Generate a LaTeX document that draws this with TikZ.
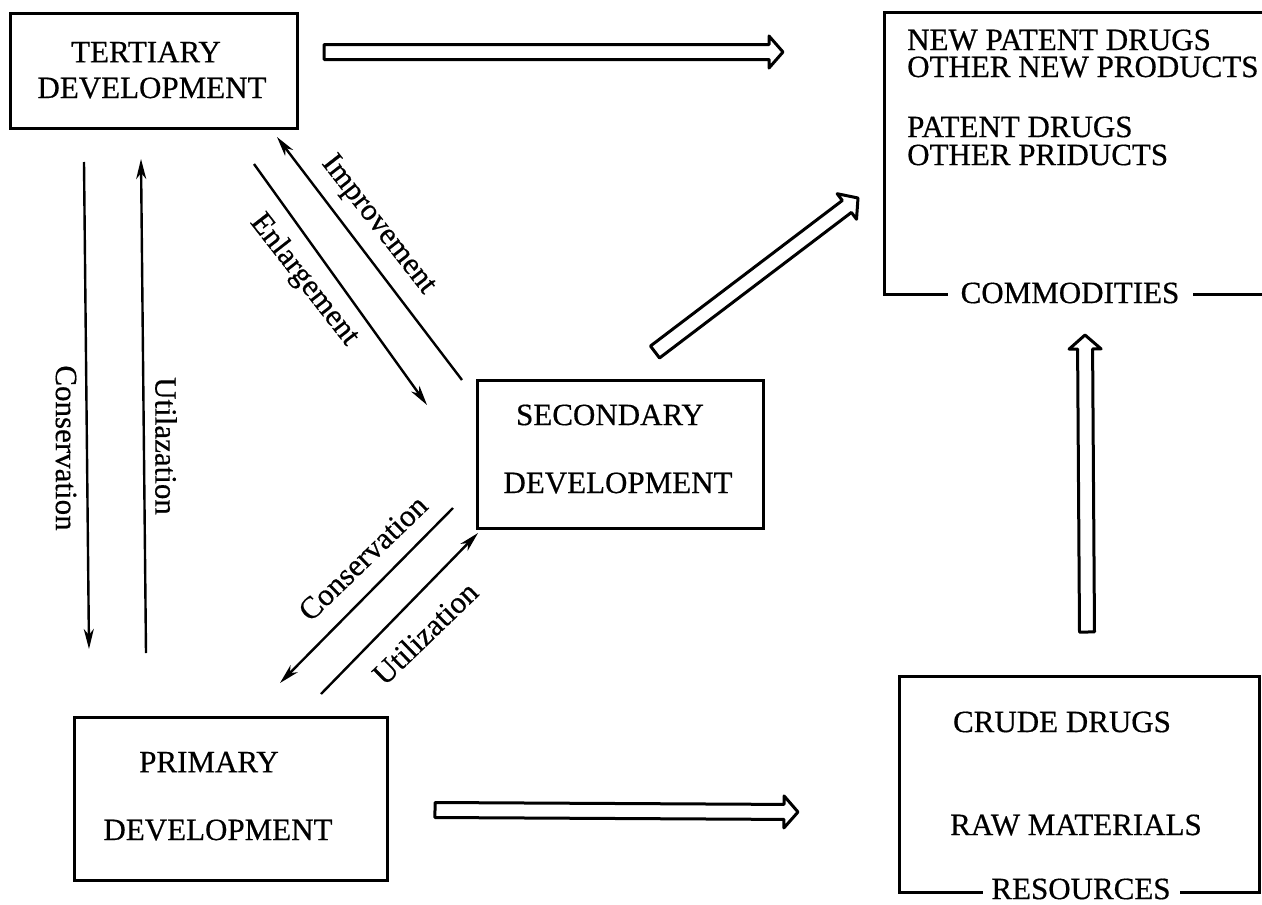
\documentclass[tikz,border=0pt]{standalone}
\usepackage{fontspec}
\setmainfont{Liberation Serif}[FakeBold=0.5]
\usetikzlibrary{calc,arrows.meta}
\tikzset{
  box/.style={draw, line width=3pt, rectangle, inner sep=0pt},
  txt/.style={inner sep=0pt, font=\fontsize{31}{36}\selectfont},
  thinarrow/.style={line width=2.4pt, -{Stealth[length=20pt,width=10pt,inset=6pt]}},
  blockarr/.style={line width=3pt, line join=round},
}
\newcommand\blockarrow[2]{%
  \coordinate (#1-h) at ($(#2)!14pt!(#1)$);
  \draw[blockarr] ($(#1)!7.5pt!90:(#2)$) -- ($(#1-h)!7.5pt!90:(#2)$) -- ($(#1-h)!16pt!90:(#2)$)
    -- (#2) -- ($(#1-h)!16pt!-90:(#2)$) -- ($(#1-h)!7.5pt!-90:(#2)$) -- ($(#1)!7.5pt!-90:(#2)$) -- cycle;}
\begin{document}
\begin{tikzpicture}[x=1pt,y=-1pt]
\useasboundingbox (0,0) rectangle (1262,905);
% boxes
\node[box, minimum width=287pt, minimum height=115pt] (ter) at (153.5,70.5) {};
\node[txt] (ter-t1) at (146,52) {TERTIARY};
\node[txt] (ter-t2) at (152,88) {DEVELOPMENT};

\node[box, minimum width=286pt, minimum height=148pt] (sec) at (620,454) {};
\node[txt] (sec-t1) at (610,415) {SECONDARY};
\node[txt] (sec-t2) at (618,483) {DEVELOPMENT};

\node[box, minimum width=313pt, minimum height=163pt] (prim) at (230.5,798.5) {};
\node[txt] (prim-t1) at (209,762) {PRIMARY};
\node[txt] (prim-t2) at (218,830) {DEVELOPMENT};

\node[box, minimum width=400pt, minimum height=282pt, anchor=north west] (com) at (883,11) {};
\node[txt, fill=white, minimum width=245pt, inner ysep=2pt] (com-l) at (1070,293) {COMMODITIES};
\node[txt, anchor=west] (com-t1) at (907,40) {NEW PATENT DRUGS};
\node[txt, anchor=west] (com-t2) at (907,67) {OTHER NEW PRODUCTS};
\node[txt, anchor=west] (com-t3) at (907,127) {PATENT DRUGS};
\node[txt, anchor=west] (com-t4) at (907,155) {OTHER PRIDUCTS};

\node[box, minimum width=360pt, minimum height=216pt] (res) at (1079,784) {};
\node[txt, fill=white, minimum width=197pt, inner ysep=1pt] (res-l) at (1081,889) {RESOURCES};
\node[txt] (res-t1) at (1062,722) {CRUDE DRUGS};
\node[txt] (res-t2) at (1076,825) {RAW MATERIALS};

% thin arrows
\coordinate (vc1) at (84,162); \coordinate (vc2) at (89,649);
\draw[thinarrow] (vc1) -- (vc2);
\node[txt, rotate=-90] (vc-l) at (66,448) {Conservation};

\coordinate (vu1) at (146,653); \coordinate (vu2) at (141,159);
\draw[thinarrow] (vu1) -- (vu2);
\node[txt, rotate=-90] (vu-l) at (166,446) {Utilazation};

\coordinate (en1) at (254,164); \coordinate (en2) at (427,405);
\draw[thinarrow] (en1) -- (en2);
\node[txt, rotate=-52] (en-l) at (304,280) {Enlargement};

\coordinate (im1) at (462,380); \coordinate (im2) at (277,137);
\draw[thinarrow] (im1) -- (im2);
\node[txt, rotate=-52] (im-l) at (378,225) {Improvement};

\coordinate (dc1) at (453,508); \coordinate (dc2) at (280,683);
\draw[thinarrow] (dc1) -- (dc2);
\node[txt, rotate=44] (dc-l) at (363,558) {Conservation};

\coordinate (du1) at (321,694); \coordinate (du2) at (478,533);
\draw[thinarrow] (du1) -- (du2);
\node[txt, rotate=44] (du-l) at (425,633) {Utilization};

% block arrows
\coordinate (ta1) at (324,52); \coordinate (ta2) at (783,52);
\blockarrow{ta1}{ta2}
\coordinate (da1) at (655,352); \coordinate (da2) at (858,198);
\blockarrow{da1}{da2}
\coordinate (va1) at (1087,632); \coordinate (va2) at (1085,335);
\blockarrow{va1}{va2}
\coordinate (ba1) at (435,810); \coordinate (ba2) at (798,812);
\blockarrow{ba1}{ba2}
\end{tikzpicture}
\end{document}
